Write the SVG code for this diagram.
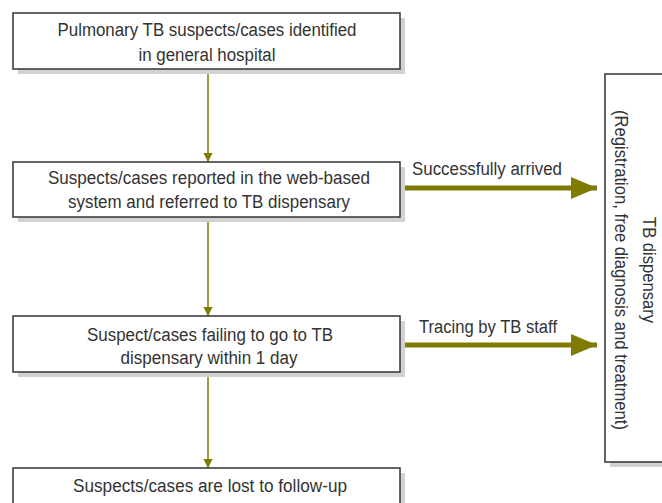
<svg xmlns="http://www.w3.org/2000/svg" width="662" height="503" viewBox="0 0 662 503">
<style>
.box{fill:#fff;stroke:#333;stroke-width:1.5}
.sh{fill:#d2d2d2}
.t{font-family:"Liberation Sans Narrow","Liberation Sans",Arial,sans-serif;font-size:18px;fill:#333;text-anchor:middle}
.thin{stroke:#7f7a00;stroke-width:1.5;fill:none}
.thick{stroke:#7f7a00;stroke-width:5;fill:none}
</style>
<defs>
<marker id="ah" markerUnits="userSpaceOnUse" viewBox="0 0 10 11" refX="10" refY="5" markerWidth="11" markerHeight="10" orient="auto"><path d="M0,0L10,5L0,10z" fill="#7f7a00"/></marker>
<marker id="ahb" markerUnits="userSpaceOnUse" viewBox="0 0 26 22" refX="26" refY="11" markerWidth="26" markerHeight="22" orient="auto"><path d="M0,0L26,11L0,22z" fill="#7f7a00"/></marker>
</defs>
<rect width="662" height="503" fill="#fff"/>
<g id="connectors">
<line class="thin" x1="208" y1="69" x2="208" y2="162" marker-end="url(#ah)"/>
<line class="thin" x1="208" y1="218" x2="208" y2="316" marker-end="url(#ah)"/>
<line class="thin" x1="208" y1="372" x2="208" y2="468" marker-end="url(#ah)"/>
<line class="thick" x1="401" y1="188" x2="597" y2="188" marker-end="url(#ahb)"/>
<line class="thick" x1="401" y1="345" x2="597" y2="345" marker-end="url(#ahb)"/>
<text class="t" x="487" y="175" textLength="150" lengthAdjust="spacingAndGlyphs">Successfully arrived</text>
<text class="t" x="488" y="333" textLength="138" lengthAdjust="spacingAndGlyphs">Tracing by TB staff</text>
</g>
<g id="n1">
<rect class="sh" x="18" y="18" width="387" height="56"/>
<rect class="box" x="13" y="13" width="387" height="56"/>
<text class="t" x="207" y="36" textLength="299" lengthAdjust="spacingAndGlyphs">Pulmonary TB suspects/cases identified</text>
<text class="t" x="207" y="61" textLength="137" lengthAdjust="spacingAndGlyphs">in general hospital</text>
</g>
<g id="n2">
<rect class="sh" x="18" y="167" width="387" height="55"/>
<rect class="box" x="13" y="162" width="387" height="55"/>
<text class="t" x="209" y="184" textLength="322" lengthAdjust="spacingAndGlyphs">Suspects/cases reported in the web-based</text>
<text class="t" x="209" y="208" textLength="282" lengthAdjust="spacingAndGlyphs">system and referred to TB dispensary</text>
</g>
<g id="n3">
<rect class="sh" x="18" y="321" width="387" height="56"/>
<rect class="box" x="13" y="316" width="387" height="56"/>
<text class="t" x="210" y="341" textLength="246" lengthAdjust="spacingAndGlyphs">Suspect/cases failing to go to TB</text>
<text class="t" x="209" y="364" textLength="177" lengthAdjust="spacingAndGlyphs">dispensary within 1 day</text>
</g>
<g id="n4">
<rect class="sh" x="18" y="473" width="387" height="40"/>
<rect class="box" x="13" y="468" width="387" height="45"/>
<text class="t" x="210" y="492" textLength="274" lengthAdjust="spacingAndGlyphs">Suspects/cases are lost to follow-up</text>
</g>
<g id="n5">
<rect class="sh" x="610" y="79" width="60" height="388"/>
<rect class="box" x="605" y="74" width="70" height="388"/>
<text class="t" transform="translate(643,270) rotate(90)" x="0" y="0" textLength="106" lengthAdjust="spacingAndGlyphs">TB dispensary</text>
<text class="t" transform="translate(615,270) rotate(90)" x="0" y="0" textLength="320" lengthAdjust="spacingAndGlyphs">(Registration, free diagnosis and treatment)</text>
</g>
</svg>
